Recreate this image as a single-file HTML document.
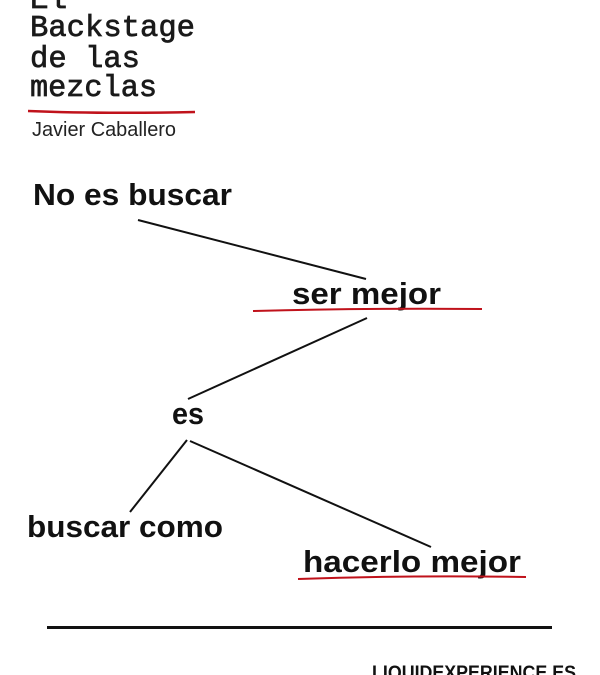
<!DOCTYPE html>
<html><head><meta charset="utf-8"><style>
html,body{margin:0;padding:0;background:#fff;width:600px;height:675px;overflow:hidden}
</style></head><body>
<svg width="600" height="675" viewBox="0 0 600 675" xmlns="http://www.w3.org/2000/svg">
<g font-family="Liberation Mono, monospace" fill="#1a1a1a" stroke="#1a1a1a" stroke-width="0.7" font-size="31">
<text x="30" y="8">El</text>
<text x="30" y="36" textLength="165" lengthAdjust="spacingAndGlyphs">Backstage</text>
<text x="30" y="67" textLength="110" lengthAdjust="spacingAndGlyphs">de las</text>
<text x="30" y="96" textLength="127" lengthAdjust="spacingAndGlyphs">mezclas</text>
</g>
<path d="M28 111 Q100 114 195 112" stroke="#c0121b" stroke-width="2.5" fill="none"/>
<text x="32" y="136" font-family="Liberation Sans, sans-serif" font-size="20" fill="#222" textLength="144" lengthAdjust="spacingAndGlyphs" style="font-weight:300">Javier Caballero</text>
<g font-family="Liberation Sans, sans-serif" font-weight="bold" fill="#111" font-size="31">
<text x="33" y="205" textLength="199" lengthAdjust="spacingAndGlyphs">No es buscar</text>
<text x="292" y="304" textLength="149" lengthAdjust="spacingAndGlyphs">ser mejor</text>
<text x="172" y="424" textLength="32" lengthAdjust="spacingAndGlyphs">es</text>
<text x="27" y="537" textLength="196" lengthAdjust="spacingAndGlyphs">buscar como</text>
<text x="303" y="572" textLength="218" lengthAdjust="spacingAndGlyphs">hacerlo mejor</text>
</g>
<g stroke="#111" stroke-width="2" fill="none">
<line x1="138" y1="220" x2="366" y2="279"/>
<line x1="367" y1="318" x2="188" y2="399"/>
<line x1="187" y1="440" x2="130" y2="512"/>
<line x1="190" y1="441" x2="431" y2="547"/>
</g>
<path d="M253 311 Q360 308 482 309" stroke="#c0121b" stroke-width="2" fill="none"/>
<path d="M298 579 Q410 575 526 577" stroke="#c0121b" stroke-width="2" fill="none"/>
<line x1="47" y1="627.5" x2="552" y2="627.5" stroke="#111" stroke-width="3"/>
<text x="372" y="679" font-family="Liberation Sans, sans-serif" font-weight="bold" font-size="19" fill="#111" textLength="204" lengthAdjust="spacingAndGlyphs">LIQUIDEXPERIENCE.ES</text>
</svg>
</body></html>
